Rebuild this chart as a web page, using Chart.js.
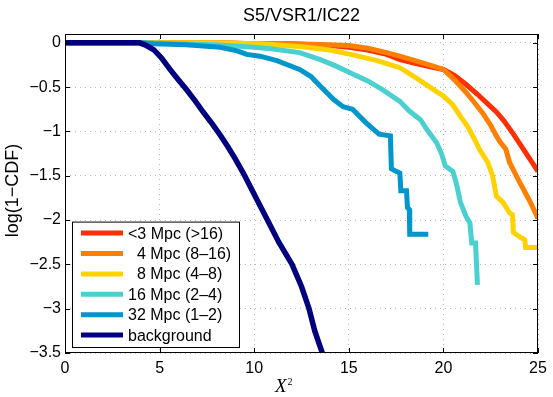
<!DOCTYPE html>
<html>
<head>
<meta charset="utf-8">
<script src="https://cdn.jsdelivr.net/npm/chart.js@4.4.0/dist/chart.umd.min.js"></script>
<style>
    html, body { margin: 0; padding: 0; background: #fff; }
    #wrap { width: 553px; height: 397px; position: relative; }
</style>
</head>
<body>
<div id="wrap"><canvas id="cdfChart"></canvas></div>
<script>
// ---- data ----
const xTicks = [0, 5, 10, 15, 20, 25];
const yTicks = [0, -0.5, -1, -1.5, -2, -2.5, -3, -3.5];

const seriesLabels = ['<3 Mpc (>16)', '\u20074 Mpc (8\u201316)', '\u20078 Mpc (4\u20138)', '16 Mpc (2\u20134)', '32 Mpc (1\u20132)', 'background'];
const seriesColors = ['#ff3000', '#ff8000', '#ffd200', '#4ccfcf', '#0096cc', '#00007f'];

const mpc3X = [0, 4, 8, 10, 12, 13, 14, 15, 16, 17, 17.7, 18.5, 19.3, 20, 20.6, 21.2, 21.8, 22.3, 22.8, 23.2, 23.7, 24.2, 24.6, 25];
const mpc3Y = [0, 0, 0, -0.01, -0.01, -0.02, -0.03, -0.05, -0.08, -0.13, -0.19, -0.23, -0.27, -0.3, -0.37, -0.47, -0.58, -0.68, -0.78, -0.88, -1.03, -1.19, -1.32, -1.45];

const mpc4X = [0, 4, 8, 10, 12, 14, 15, 16, 17, 17.7, 18.5, 19.3, 20, 20.6, 21.2, 21.7, 22.1, 22.5, 22.8, 23.0, 23.3, 23.5, 23.95, 24.3, 24.6, 25];
const mpc4Y = [0, 0, 0, -0.01, -0.01, -0.02, -0.03, -0.06, -0.11, -0.15, -0.2, -0.25, -0.3, -0.42, -0.56, -0.69, -0.8, -0.93, -1.05, -1.12, -1.2, -1.35, -1.54, -1.68, -1.8, -1.98];

const mpc8X = [0, 4, 8, 10.3, 12.4, 14, 15.1, 16.5, 17.7, 18.6, 19.5, 20, 20.5, 20.9, 21.3, 21.75, 21.9, 22.35, 22.6, 22.8, 23.15, 23.5, 23.65, 23.7, 24.1, 24.3, 24.35, 25];
const mpc8Y = [0, 0, 0, -0.01, -0.04, -0.08, -0.13, -0.2, -0.28, -0.4, -0.53, -0.6, -0.7, -0.83, -0.95, -1.13, -1.2, -1.35, -1.5, -1.73, -1.8, -1.92, -1.94, -2.14, -2.2, -2.22, -2.31, -2.31];

const mpc16X = [0, 4, 6, 8, 10, 11, 12.4, 13.5, 14.3, 15.1, 16, 16.8, 17.7, 18.2, 18.8, 19.1, 19.65, 19.9, 20.1, 20.5, 20.7, 20.9, 21.2, 21.4, 21.5, 21.7, 21.75, 21.8];
const mpc16Y = [0, 0, -0.01, -0.02, -0.05, -0.07, -0.11, -0.19, -0.26, -0.34, -0.43, -0.53, -0.66, -0.77, -0.87, -0.97, -1.13, -1.25, -1.39, -1.45, -1.6, -1.8, -1.96, -2.03, -2.26, -2.26, -2.5, -2.73];

const mpc32X = [0, 4, 4.7, 6.4, 8.2, 9.1, 9.6, 10.3, 11.2, 12.4, 13, 13.5, 14.2, 14.7, 15.2, 15.9, 16.6, 17.2, 17.25, 17.5, 17.7, 17.75, 18.05, 18.1, 18.2, 18.22, 19.2];
const mpc32Y = [0, 0, -0.01, -0.02, -0.05, -0.09, -0.13, -0.15, -0.2, -0.3, -0.38, -0.49, -0.64, -0.72, -0.75, -0.9, -1.03, -1.05, -1.42, -1.45, -1.47, -1.67, -1.67, -1.86, -1.88, -2.16, -2.16];

const bgX = [0, 3.95, 4.3, 4.7, 5.1, 5.55, 6.0, 6.43, 6.9, 7.3, 7.8, 8.2, 8.6, 9.0, 9.5, 10.1, 10.7, 11.3, 12, 12.5, 12.9, 13.2, 13.6, 13.7];
const bgY = [0, 0, -0.03, -0.08, -0.17, -0.3, -0.42, -0.53, -0.66, -0.78, -0.92, -1.04, -1.17, -1.31, -1.5, -1.75, -2.0, -2.25, -2.5, -2.75, -3.0, -3.25, -3.5, -3.6];

const seriesX = [mpc3X, mpc4X, mpc8X, mpc16X, mpc32X, bgX];
const seriesY = [mpc3Y, mpc4Y, mpc8Y, mpc16Y, mpc32Y, bgY];

const FONT = '"Liberation Sans", Arial, Helvetica, sans-serif';
Chart.defaults.font.family = FONT;
Chart.defaults.color = '#000';

const toPoints = (xs, ys) => xs.map((x, i) => ({ x: x, y: ys[i] }));
const minus = v => (v < 0 ? '\u2212' + Math.abs(v) : String(v));

// frame, inward ticks, labels and the boxed legend, matlab style
const matlabFrame = {
    id: 'matlabFrame',
    afterDatasetsDraw(chart) {
        const { ctx, chartArea: a, scales } = chart;
        ctx.save();
        ctx.strokeStyle = '#000';
        ctx.lineWidth = 1;
        ctx.strokeRect(a.left + 0.5, a.top + 0.5, a.width - 1, a.height - 1);
        ctx.beginPath();
        scales.x.ticks.forEach(t => {
            const px = Math.round(scales.x.getPixelForValue(t.value)) + 0.5;
            ctx.moveTo(px, a.bottom); ctx.lineTo(px, a.bottom - 5);
            ctx.moveTo(px, a.top); ctx.lineTo(px, a.top + 5);
        });
        scales.y.ticks.forEach(t => {
            const py = Math.round(scales.y.getPixelForValue(t.value)) + 0.5;
            ctx.moveTo(a.left, py); ctx.lineTo(a.left + 5, py);
            ctx.moveTo(a.right, py); ctx.lineTo(a.right - 5, py);
        });
        ctx.stroke();

        // legend
        const sets = chart.data.datasets;
        const rowH = 20.4;
        const boxL = a.left + 7, boxB = a.bottom - 6;
        const boxT = boxB - rowH * sets.length - 3;
        ctx.fillStyle = '#fff';
        ctx.fillRect(boxL, boxT, 167, boxB - boxT);
        ctx.strokeStyle = '#000';
        ctx.strokeRect(boxL + 0.5, boxT + 0.5, 167, boxB - boxT);
        ctx.font = '16px ' + FONT;
        ctx.textBaseline = 'middle';
        ctx.textAlign = 'left';
        sets.forEach((ds, i) => {
            const cy = boxT + 11.5 + i * rowH;
            ctx.strokeStyle = ds.borderColor;
            ctx.lineWidth = 5;
            ctx.beginPath();
            ctx.moveTo(boxL + 9, cy); ctx.lineTo(boxL + 51, cy);
            ctx.stroke();
            ctx.fillStyle = '#000';
            ctx.fillText(ds.label, boxL + 56, cy + 1);
        });
        ctx.restore();
    },
    afterDraw(chart) {
        const { ctx, chartArea: a } = chart;
        ctx.save();
        ctx.fillStyle = '#000';
        ctx.textAlign = 'center';
        ctx.textBaseline = 'middle';
        ctx.font = '18px ' + FONT;
        ctx.fillText('S5/VSR1/IC22', (a.left + a.right) / 2, 16);

        ctx.translate(13, (a.top + a.bottom) / 2 - 3);
        ctx.rotate(-Math.PI / 2);
        ctx.fillText('log(1\u2212CDF)', 0, 0);
        ctx.setTransform(1, 0, 0, 1, 0, 0);

        ctx.textAlign = 'left';
        ctx.textBaseline = 'alphabetic';
        ctx.font = 'italic 19px "Liberation Serif", "DejaVu Serif", serif';
        const xw = ctx.measureText('X').width;
        ctx.fillText('X', 275, 392);
        ctx.font = '10px "Liberation Serif", "DejaVu Serif", serif';
        ctx.fillText('2', 275 + xw + 1, 385);
        ctx.restore();
    }
};

const datasets = seriesLabels.map((label, i) => ({
    label: label,
    data: toPoints(seriesX[i], seriesY[i]),
    borderColor: seriesColors[i],
    backgroundColor: seriesColors[i],
    borderWidth: i === 5 ? 5.5 : 5,
    pointRadius: 0,
    tension: 0,
    fill: false,
    order: seriesLabels.length - 1 - i
}));

const ctx = document.getElementById('cdfChart').getContext('2d');
const cdfChart = new Chart(ctx, {
    type: 'line',
    data: { datasets: datasets },
    options: {
        responsive: true,
        maintainAspectRatio: false,
        animation: false,
        layout: { padding: { top: 34, right: 15, bottom: 0, left: 0 } },
        plugins: {
            legend: { display: false },
            tooltip: { enabled: false },
            title: { display: false }
        },
        scales: {
            x: {
                type: 'linear',
                min: 0,
                max: 25,
                afterBuildTicks: s => { s.ticks = xTicks.map(v => ({ value: v })); },
                afterFit: s => { s.height = 44; },
                grid: { color: '#b8b8b8', lineWidth: 1, drawTicks: false },
                border: { display: false, dash: [1, 4] },
                ticks: { padding: 6, maxRotation: 0, font: { size: 16 }, color: '#000', callback: v => minus(v) }
            },
            y: {
                type: 'linear',
                min: -3.5,
                max: 0.1,
                afterBuildTicks: s => { s.ticks = yTicks.map(v => ({ value: v })); },
                afterFit: s => { s.width = 65; },
                grid: { color: '#b8b8b8', lineWidth: 1, drawTicks: false },
                border: { display: false, dash: [1, 4] },
                ticks: { padding: 4, font: { size: 16 }, color: '#000', callback: v => minus(v) }
            }
        }
    },
    plugins: [matlabFrame]
});
</script>
</body>
</html>
